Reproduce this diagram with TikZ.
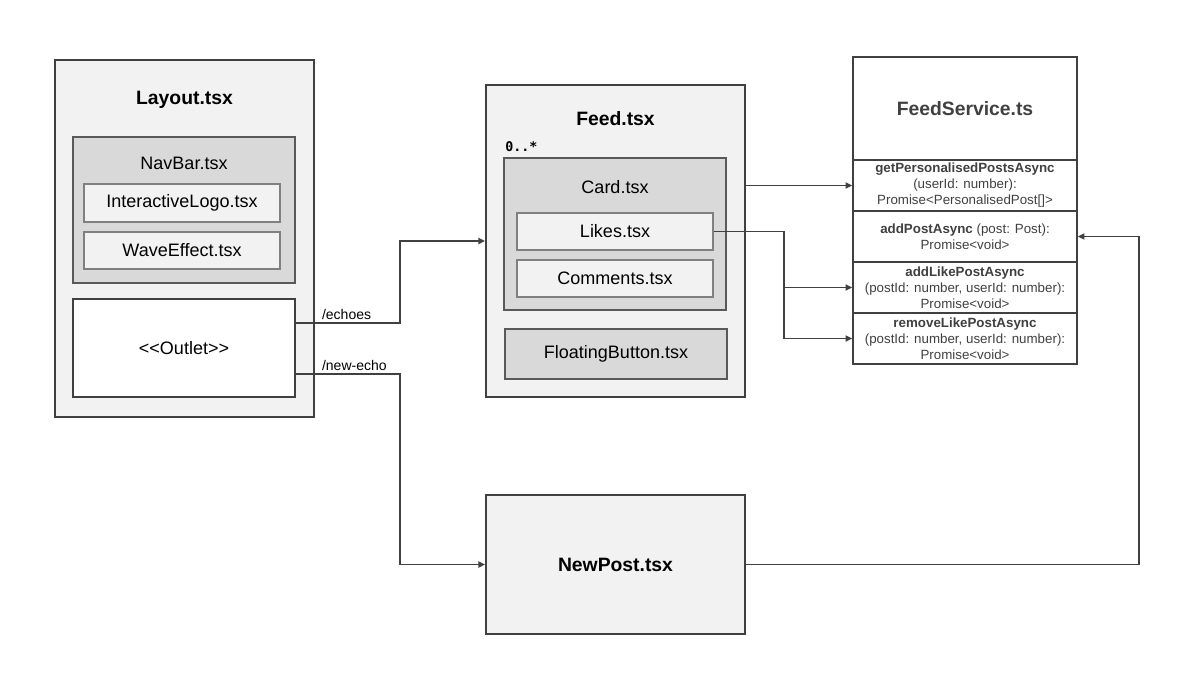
\documentclass[tikz,border=0pt]{standalone}
\usepackage{fontspec}
\setmainfont{Liberation Sans}
\setmonofont{DejaVu Sans Mono}
\usetikzlibrary{arrows.meta}
\definecolor{edgegray}{HTML}{404040}
\definecolor{midgray}{HTML}{595959}
\definecolor{softgray}{HTML}{808080}
\definecolor{paleFill}{HTML}{F2F2F2}
\definecolor{darkFill}{HTML}{D9D9D9}
\newcommand{\boxfont}{\fontsize{13.5}{16}\selectfont}
\newcommand{\titlefont}{\fontsize{14.5}{17}\selectfont\bfseries}
\newcommand{\lt}{\mbox{<}}
\newcommand{\gt}{\mbox{>}}

\begin{document}
\begin{tikzpicture}[x=0.75pt, y=-0.75pt,
  outerbox/.style={draw=edgegray, fill=paleFill, line width=1.3pt, inner sep=0pt},
  midbox/.style={draw=midgray, fill=darkFill, line width=1.3pt, inner sep=0pt},
  innerbox/.style={draw=softgray, fill=paleFill, line width=1.3pt, inner sep=0pt, font=\boxfont},
  methodrow/.style={draw=edgegray, fill=white, line width=1.1pt, inner sep=0pt,
    minimum width=168pt, minimum height=38.25pt, align=center, text=edgegray,
    font=\fontsize{10}{12}\selectfont},
  link/.style={draw=edgegray, line width=1.3pt, -{Triangle[length=5pt,width=4.5pt]}},
  lbl/.style={font=\fontsize{10.5}{12}\selectfont, inner sep=2pt}]
\useasboundingbox (0,0) rectangle (1204,675);

\node[outerbox, minimum width=194.25pt, minimum height=267.75pt] (layoutbox) at (184.5,238.5) {};
\node[font=\titlefont] (layouttitle) at (184.5,100) {Layout.tsx};
\node[midbox, minimum width=166.5pt, minimum height=109.5pt] (navbox) at (184,210) {};
\node[font=\boxfont] (navtitle) at (184,163) {NavBar.tsx};
\node[innerbox, minimum width=147pt, minimum height=28.5pt] (logobox) at (182,203) {InteractiveLogo.tsx};
\node[innerbox, minimum width=147pt, minimum height=27.75pt] (wavebox) at (182,250.5) {WaveEffect.tsx};
\node[draw=edgegray, fill=white, line width=1.3pt, minimum width=166.5pt, minimum height=73.5pt,
      font=\boxfont] (outletbox) at (184,348) {\lt\lt Outlet\gt\gt};

\node[outerbox, minimum width=194.25pt, minimum height=234pt] (feedbox) at (615.5,241) {};
\node[font=\titlefont] (feedtitle) at (615.5,119) {Feed.tsx};
\node[anchor=west, inner sep=0pt, font=\ttfamily\bfseries\fontsize{10}{12}\selectfont] (cardcount) at (505,147) {0..*};
\node[midbox, minimum width=166.5pt, minimum height=114pt] (cardbox) at (615,234) {};
\node[font=\boxfont] (cardtitle) at (615,187) {Card.tsx};
\node[innerbox, minimum width=147pt, minimum height=27.75pt] (likesbox) at (615,231.5) {Likes.tsx};
\node[innerbox, minimum width=147pt, minimum height=27.75pt] (commentsbox) at (615,278.5) {Comments.tsx};
\node[midbox, minimum width=166.5pt, minimum height=37.5pt, font=\boxfont] (fabbox) at (616,354) {FloatingButton.tsx};

\node[outerbox, minimum width=194.25pt, minimum height=104.25pt, font=\titlefont] (newpostbox) at (615.5,564.5) {NewPost.tsx};

\node[draw=edgegray, fill=white, line width=1.3pt, minimum width=168pt, minimum height=77.25pt,
      text=edgegray, font=\titlefont] (servicebox) at (965,108.5) {FeedService.ts};
\node[methodrow] (getrow) at (965,185.5)
  {\textbf{getPersonalisedPostsAsync}\\(userId: number):\\Promise\lt PersonalisedPost[]\gt};
\node[methodrow] (addrow) at (965,236.5)
  {\textbf{addPostAsync} (post: Post):\\Promise\lt void\gt};
\node[methodrow] (likerow) at (965,287.5)
  {\textbf{addLikePostAsync}\\(postId: number, userId: number):\\Promise\lt void\gt};
\node[methodrow] (unlikerow) at (965,338.5)
  {\textbf{removeLikePostAsync}\\(postId: number, userId: number):\\Promise\lt void\gt};

\draw[link] ([yshift=18.75pt]outletbox.east) -- node[lbl, pos=0, anchor=south west, xshift=17pt] {/echoes}
  ++(78pt,0) |- (feedbox.west);
\draw[link] ([yshift=-19.5pt]outletbox.east) -- node[lbl, pos=0, anchor=south west, xshift=17pt] {/new-echo}
  ++(78pt,0) |- (newpostbox.west);
\draw[link] (feedbox.east |- getrow.west) -- (getrow.west);
\draw[link] (likesbox.east) -- ++(52.5pt,0) |- (likerow.west);
\draw[link] (likesbox.east) -- ++(52.5pt,0) |- (unlikerow.west);
\draw[link] (newpostbox.east) -- ++(294.75pt,0) |- (addrow.east);
\end{tikzpicture}
\end{document}
